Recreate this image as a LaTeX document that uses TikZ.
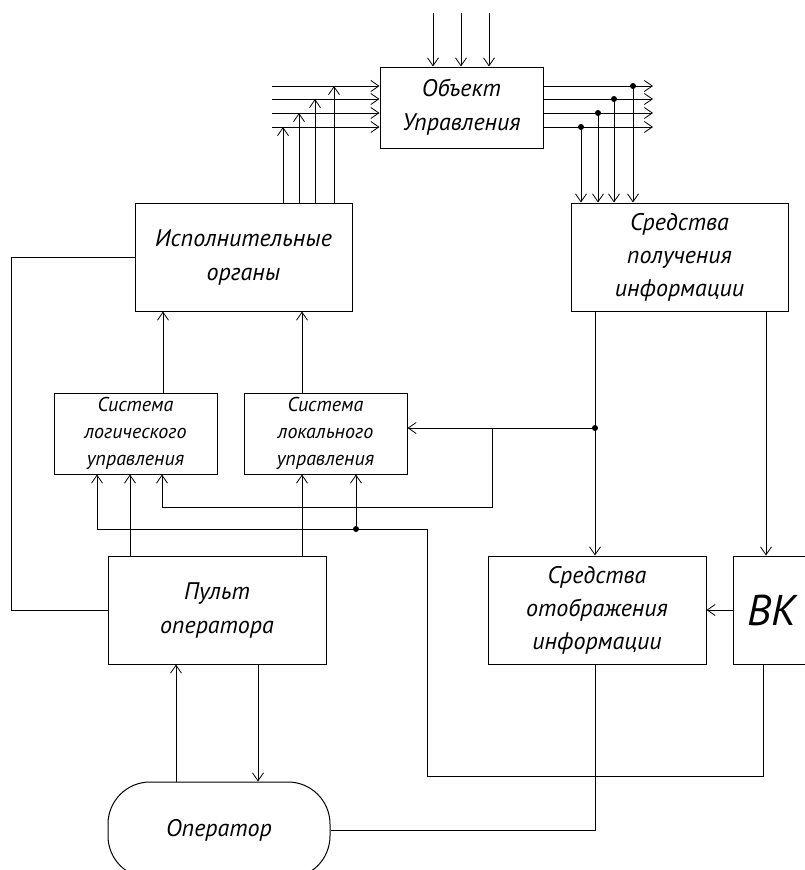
\documentclass[tikz,border=0pt]{standalone}
\usepackage{fontspec}
\setmainfont{PT Sans}
\usetikzlibrary{arrows.meta,calc}
\tikzset{
  box/.style={draw, line width=1pt, inner sep=0pt, align=center, font=\itshape\fontsize{24}{34}\selectfont},
  smallbox/.style={box, font=\itshape\fontsize{20}{27}\selectfont},
  arr/.style={-{Straight Barb[length=8pt,width=11pt,line width=0.8pt]}},
  dot/.style={circle, fill, inner sep=0pt, minimum size=6pt},
}
\begin{document}
\begin{tikzpicture}[x=1pt,y=-1pt,line width=0.9pt]
\useasboundingbox (0,0) rectangle (805,870);
\clip (0,0) rectangle (805,870);

% boxes
\node[box, minimum width=163pt, minimum height=81pt] (obj) at (461.5,107.5) {Объект\\Управления};
\node[box, minimum width=217pt, minimum height=108pt] (isp) at (243.5,257) {Исполнительные\\органы};
\node[box, minimum width=217pt, minimum height=108pt, font=\itshape\fontsize{24}{33}\selectfont] (sp) at (679.5,257) {Средства\\получения\\информации};
\node[smallbox, minimum width=163pt, minimum height=81pt] (slog) at (135.5,433.5) {Система\\логического\\управления};
\node[smallbox, minimum width=163pt, minimum height=81pt] (slok) at (325.5,433.5) {Система\\локального\\управления};
\node[box, minimum width=218pt, minimum height=108pt] (pult) at (217,610) {Пульт\\оператора};
\node[box, minimum width=218pt, minimum height=108pt, font=\itshape\fontsize{24}{33}\selectfont] (so) at (597,610) {Средства\\отображения\\информации};
\node[box, minimum width=78pt, minimum height=108pt, font=\itshape\fontsize{43}{45}\selectfont] (bk) at (772,610) {ВК};
\node[box, rounded corners=42pt, minimum width=222pt, minimum height=96pt] (op) at (219,830) {Оператор};

% x positions
\foreach \x in {97,130,162,163,176,258,283,299,302,315,334,356,433,461,489,595,766}
  \coordinate (x\x) at (\x,0);

% top inputs
\foreach \x in {433,461,489} {
  \coordinate (t\x) at (\x,13);
  \draw[arr] (t\x) -- (t\x |- obj.north);
}

% left inputs and right outputs
\foreach \y/\n in {86/1,99/2,113/3,127/4} {
  \coordinate (L\n) at (272,\y);
  \draw[arr] (L\n) -- (L\n -| obj.west);
  \coordinate (R\n) at (653,\y);
  \draw[arr] (obj.east |- R\n) -- (R\n);
}
\draw[arr] (isp.north -| x283) -- (L4 -| x283);
\draw[arr] (isp.north -| x299) -- (L3 -| x299);
\draw[arr] (isp.north -| x315) -- (L2 -| x315);
\draw[arr] (isp.north -| x334) -- (L1 -| x334);

% right outputs with junctions
\node[dot] (d1) at (633,86) {};
\node[dot] (d2) at (614,99) {};
\node[dot] (d3) at (598,113) {};
\node[dot] (d4) at (581,127) {};
\foreach \n in {1,2,3,4}
  \draw[arr] (d\n.center) -- (d\n.center |- sp.north);

% isp - pult
\coordinate (c1) at (11,257);
\draw (isp.west |- c1) -- (c1) |- (pult.west);

% systems to isp
\draw[arr] (slog.north -| x163) -- (isp.south -| x163);
\draw[arr] (slok.north -| x302) -- (isp.south -| x302);

% sp outputs
\draw[arr] (sp.south -| x595) -- (so.north -| x595);
\draw[arr] (sp.south -| x766) -- (bk.north -| x766);
\node[dot] (j1) at (595,428) {};
\draw[arr] (j1.center) -- (slok.east |- j1.center);
\coordinate (b1) at (492,428);
\coordinate (b2) at (162,507);
\draw[arr] (b1) |- (b2) -- (b2 |- slog.south);

% bk
\draw[arr] (bk.west) -- (so.east |- bk.west);
\coordinate (k1) at (763,776);
\coordinate (k2) at (427,529);
\coordinate (k3) at (97,529);
\draw[arr] (bk.south -| k1) -- (k1) -| (k2) -- (k3) -- (k3 |- slog.south);
\node[dot] (j2) at (356,529) {};
\draw[arr] (j2.center) -- (j2.center |- slok.south);

% pult to systems
\draw[arr] (pult.north -| x130) -- (slog.south -| x130);
\draw[arr] (pult.north -| x302) -- (slok.south -| x302);

% pult - operator
\draw[arr] (op.north -| x176) -- (pult.south -| x176);
\draw[arr] (pult.south -| x258) -- (op.north -| x258);

% operator - so
\draw (op.east) -| (so.south -| x595);
\end{tikzpicture}
\end{document}
